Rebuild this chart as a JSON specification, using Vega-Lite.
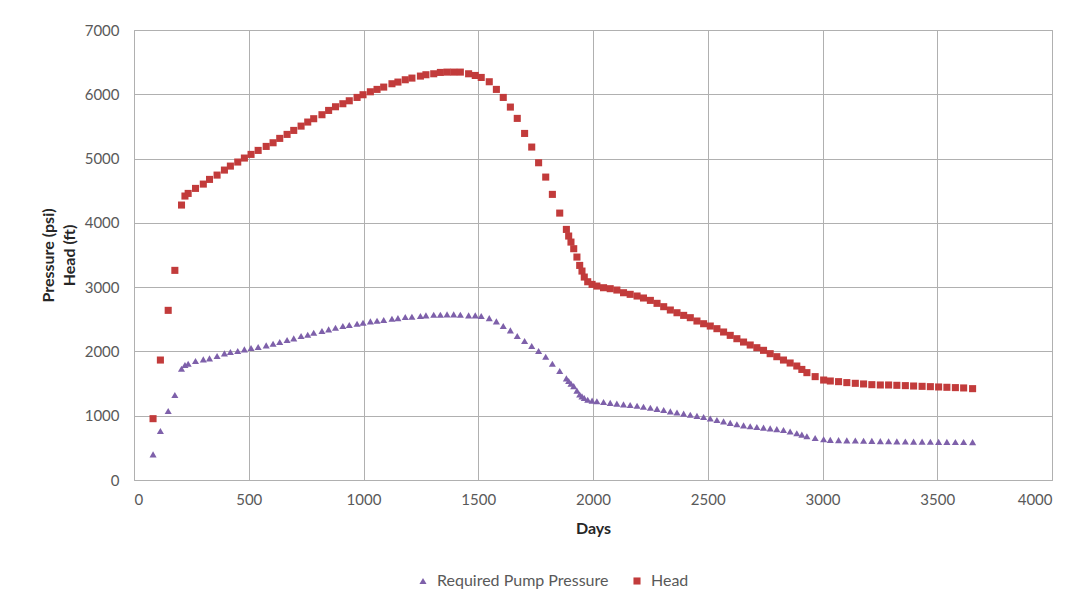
{
"$schema": "https://vega.github.io/schema/vega-lite/v6.json",
"width": 918, "height": 450,
"autosize": {"type": "none"},
"padding": {"left": 134, "top": 30, "right": 38, "bottom": 121},
"background": "white",
"data": {"values": [
{"series":"Head","day":83,"value":954},{"series":"Head","day":115,"value":1866},{"series":"Head","day":149,"value":2639},{"series":"Head","day":178,"value":3261},{"series":"Head","day":207,"value":4277},{"series":"Head","day":222,"value":4417},{"series":"Head","day":236,"value":4458},{"series":"Head","day":268,"value":4536},{"series":"Head","day":302,"value":4603},{"series":"Head","day":329,"value":4676},{"series":"Head","day":362,"value":4743},{"series":"Head","day":394,"value":4821},{"series":"Head","day":420,"value":4883},{"series":"Head","day":452,"value":4946},{"series":"Head","day":481,"value":5008},{"series":"Head","day":510,"value":5065},{"series":"Head","day":541,"value":5127},{"series":"Head","day":576,"value":5189},{"series":"Head","day":606,"value":5246},{"series":"Head","day":635,"value":5314},{"series":"Head","day":667,"value":5376},{"series":"Head","day":696,"value":5438},{"series":"Head","day":728,"value":5505},{"series":"Head","day":757,"value":5568},{"series":"Head","day":783,"value":5620},{"series":"Head","day":819,"value":5682},{"series":"Head","day":848,"value":5749},{"series":"Head","day":878,"value":5806},{"series":"Head","day":910,"value":5853},{"series":"Head","day":938,"value":5899},{"series":"Head","day":972,"value":5951},{"series":"Head","day":998,"value":5993},{"series":"Head","day":1030,"value":6039},{"series":"Head","day":1059,"value":6076},{"series":"Head","day":1088,"value":6112},{"series":"Head","day":1124,"value":6164},{"series":"Head","day":1150,"value":6190},{"series":"Head","day":1182,"value":6226},{"series":"Head","day":1211,"value":6252},{"series":"Head","day":1248,"value":6283},{"series":"Head","day":1272,"value":6304},{"series":"Head","day":1306,"value":6319},{"series":"Head","day":1335,"value":6340},{"series":"Head","day":1364,"value":6345},{"series":"Head","day":1393,"value":6345},{"series":"Head","day":1422,"value":6345},{"series":"Head","day":1458,"value":6319},{"series":"Head","day":1487,"value":6293},{"series":"Head","day":1513,"value":6262},{"series":"Head","day":1548,"value":6195},{"series":"Head","day":1579,"value":6076},{"series":"Head","day":1609,"value":5951},{"series":"Head","day":1640,"value":5801},{"series":"Head","day":1670,"value":5625},{"series":"Head","day":1702,"value":5391},{"series":"Head","day":1733,"value":5179},{"series":"Head","day":1763,"value":4935},{"series":"Head","day":1794,"value":4712},{"series":"Head","day":1823,"value":4443},{"series":"Head","day":1855,"value":4152},{"series":"Head","day":1884,"value":3898},{"series":"Head","day":1894,"value":3795},{"series":"Head","day":1904,"value":3701},{"series":"Head","day":1916,"value":3598},{"series":"Head","day":1930,"value":3468},{"series":"Head","day":1942,"value":3338},{"series":"Head","day":1952,"value":3250},{"series":"Head","day":1962,"value":3157},{"series":"Head","day":1977,"value":3084},{"series":"Head","day":1996,"value":3043},{"series":"Head","day":2017,"value":3017},{"series":"Head","day":2046,"value":2991},{"series":"Head","day":2075,"value":2976},{"series":"Head","day":2104,"value":2955},{"series":"Head","day":2133,"value":2913},{"series":"Head","day":2162,"value":2888},{"series":"Head","day":2192,"value":2862},{"series":"Head","day":2220,"value":2831},{"series":"Head","day":2250,"value":2794},{"series":"Head","day":2279,"value":2748},{"series":"Head","day":2308,"value":2696},{"series":"Head","day":2337,"value":2644},{"series":"Head","day":2366,"value":2602},{"series":"Head","day":2395,"value":2561},{"series":"Head","day":2424,"value":2525},{"series":"Head","day":2453,"value":2473},{"series":"Head","day":2482,"value":2431},{"series":"Head","day":2511,"value":2395},{"series":"Head","day":2540,"value":2354},{"series":"Head","day":2569,"value":2302},{"series":"Head","day":2598,"value":2250},{"series":"Head","day":2627,"value":2198},{"series":"Head","day":2656,"value":2146},{"series":"Head","day":2685,"value":2100},{"series":"Head","day":2714,"value":2058},{"series":"Head","day":2743,"value":2017},{"series":"Head","day":2772,"value":1965},{"series":"Head","day":2801,"value":1918},{"series":"Head","day":2830,"value":1866},{"series":"Head","day":2859,"value":1820},{"series":"Head","day":2888,"value":1773},{"series":"Head","day":2910,"value":1720},{"series":"Head","day":2932,"value":1670},{"series":"Head","day":2968,"value":1608},{"series":"Head","day":3005,"value":1555},{"series":"Head","day":3034,"value":1540},{"series":"Head","day":3070,"value":1530},{"series":"Head","day":3106,"value":1515},{"series":"Head","day":3143,"value":1504},{"series":"Head","day":3179,"value":1494},{"series":"Head","day":3215,"value":1483},{"series":"Head","day":3252,"value":1478},{"series":"Head","day":3288,"value":1478},{"series":"Head","day":3324,"value":1473},{"series":"Head","day":3361,"value":1468},{"series":"Head","day":3397,"value":1462},{"series":"Head","day":3434,"value":1457},{"series":"Head","day":3470,"value":1452},{"series":"Head","day":3506,"value":1447},{"series":"Head","day":3542,"value":1442},{"series":"Head","day":3579,"value":1437},{"series":"Head","day":3615,"value":1432},{"series":"Head","day":3654,"value":1421},
{"series":"Required Pump Pressure","day":83,"value":399},{"series":"Required Pump Pressure","day":115,"value":762},{"series":"Required Pump Pressure","day":149,"value":1073},{"series":"Required Pump Pressure","day":178,"value":1322},{"series":"Required Pump Pressure","day":207,"value":1731},{"series":"Required Pump Pressure","day":222,"value":1789},{"series":"Required Pump Pressure","day":236,"value":1809},{"series":"Required Pump Pressure","day":268,"value":1851},{"series":"Required Pump Pressure","day":302,"value":1877},{"series":"Required Pump Pressure","day":329,"value":1892},{"series":"Required Pump Pressure","day":362,"value":1928},{"series":"Required Pump Pressure","day":394,"value":1970},{"series":"Required Pump Pressure","day":420,"value":1991},{"series":"Required Pump Pressure","day":452,"value":2006},{"series":"Required Pump Pressure","day":481,"value":2032},{"series":"Required Pump Pressure","day":510,"value":2053},{"series":"Required Pump Pressure","day":541,"value":2068},{"series":"Required Pump Pressure","day":576,"value":2094},{"series":"Required Pump Pressure","day":606,"value":2120},{"series":"Required Pump Pressure","day":635,"value":2146},{"series":"Required Pump Pressure","day":667,"value":2177},{"series":"Required Pump Pressure","day":696,"value":2203},{"series":"Required Pump Pressure","day":728,"value":2240},{"series":"Required Pump Pressure","day":757,"value":2260},{"series":"Required Pump Pressure","day":783,"value":2291},{"series":"Required Pump Pressure","day":819,"value":2317},{"series":"Required Pump Pressure","day":848,"value":2343},{"series":"Required Pump Pressure","day":878,"value":2369},{"series":"Required Pump Pressure","day":910,"value":2395},{"series":"Required Pump Pressure","day":938,"value":2411},{"series":"Required Pump Pressure","day":972,"value":2431},{"series":"Required Pump Pressure","day":998,"value":2447},{"series":"Required Pump Pressure","day":1030,"value":2468},{"series":"Required Pump Pressure","day":1059,"value":2478},{"series":"Required Pump Pressure","day":1088,"value":2488},{"series":"Required Pump Pressure","day":1124,"value":2509},{"series":"Required Pump Pressure","day":1150,"value":2519},{"series":"Required Pump Pressure","day":1182,"value":2535},{"series":"Required Pump Pressure","day":1211,"value":2540},{"series":"Required Pump Pressure","day":1248,"value":2551},{"series":"Required Pump Pressure","day":1272,"value":2561},{"series":"Required Pump Pressure","day":1306,"value":2571},{"series":"Required Pump Pressure","day":1335,"value":2571},{"series":"Required Pump Pressure","day":1364,"value":2576},{"series":"Required Pump Pressure","day":1393,"value":2576},{"series":"Required Pump Pressure","day":1422,"value":2571},{"series":"Required Pump Pressure","day":1458,"value":2561},{"series":"Required Pump Pressure","day":1487,"value":2561},{"series":"Required Pump Pressure","day":1513,"value":2551},{"series":"Required Pump Pressure","day":1548,"value":2519},{"series":"Required Pump Pressure","day":1579,"value":2468},{"series":"Required Pump Pressure","day":1609,"value":2395},{"series":"Required Pump Pressure","day":1640,"value":2328},{"series":"Required Pump Pressure","day":1670,"value":2240},{"series":"Required Pump Pressure","day":1702,"value":2162},{"series":"Required Pump Pressure","day":1733,"value":2084},{"series":"Required Pump Pressure","day":1763,"value":2006},{"series":"Required Pump Pressure","day":1794,"value":1918},{"series":"Required Pump Pressure","day":1823,"value":1809},{"series":"Required Pump Pressure","day":1855,"value":1695},{"series":"Required Pump Pressure","day":1884,"value":1581},{"series":"Required Pump Pressure","day":1894,"value":1540},{"series":"Required Pump Pressure","day":1904,"value":1500},{"series":"Required Pump Pressure","day":1916,"value":1460},{"series":"Required Pump Pressure","day":1930,"value":1390},{"series":"Required Pump Pressure","day":1942,"value":1330},{"series":"Required Pump Pressure","day":1952,"value":1300},{"series":"Required Pump Pressure","day":1962,"value":1275},{"series":"Required Pump Pressure","day":1977,"value":1248},{"series":"Required Pump Pressure","day":1996,"value":1235},{"series":"Required Pump Pressure","day":2017,"value":1225},{"series":"Required Pump Pressure","day":2046,"value":1213},{"series":"Required Pump Pressure","day":2075,"value":1200},{"series":"Required Pump Pressure","day":2104,"value":1188},{"series":"Required Pump Pressure","day":2133,"value":1177},{"series":"Required Pump Pressure","day":2162,"value":1166},{"series":"Required Pump Pressure","day":2192,"value":1155},{"series":"Required Pump Pressure","day":2220,"value":1140},{"series":"Required Pump Pressure","day":2250,"value":1124},{"series":"Required Pump Pressure","day":2279,"value":1107},{"series":"Required Pump Pressure","day":2308,"value":1089},{"series":"Required Pump Pressure","day":2337,"value":1068},{"series":"Required Pump Pressure","day":2366,"value":1050},{"series":"Required Pump Pressure","day":2395,"value":1032},{"series":"Required Pump Pressure","day":2424,"value":1015},{"series":"Required Pump Pressure","day":2453,"value":998},{"series":"Required Pump Pressure","day":2482,"value":980},{"series":"Required Pump Pressure","day":2511,"value":956},{"series":"Required Pump Pressure","day":2540,"value":934},{"series":"Required Pump Pressure","day":2569,"value":912},{"series":"Required Pump Pressure","day":2598,"value":888},{"series":"Required Pump Pressure","day":2627,"value":868},{"series":"Required Pump Pressure","day":2656,"value":850},{"series":"Required Pump Pressure","day":2685,"value":836},{"series":"Required Pump Pressure","day":2714,"value":824},{"series":"Required Pump Pressure","day":2743,"value":814},{"series":"Required Pump Pressure","day":2772,"value":804},{"series":"Required Pump Pressure","day":2801,"value":792},{"series":"Required Pump Pressure","day":2830,"value":778},{"series":"Required Pump Pressure","day":2859,"value":755},{"series":"Required Pump Pressure","day":2888,"value":728},{"series":"Required Pump Pressure","day":2910,"value":705},{"series":"Required Pump Pressure","day":2932,"value":680},{"series":"Required Pump Pressure","day":2968,"value":653},{"series":"Required Pump Pressure","day":3005,"value":633},{"series":"Required Pump Pressure","day":3034,"value":625},{"series":"Required Pump Pressure","day":3070,"value":620},{"series":"Required Pump Pressure","day":3106,"value":617},{"series":"Required Pump Pressure","day":3143,"value":614},{"series":"Required Pump Pressure","day":3179,"value":611},{"series":"Required Pump Pressure","day":3215,"value":608},{"series":"Required Pump Pressure","day":3252,"value":605},{"series":"Required Pump Pressure","day":3288,"value":603},{"series":"Required Pump Pressure","day":3324,"value":601},{"series":"Required Pump Pressure","day":3361,"value":599},{"series":"Required Pump Pressure","day":3397,"value":597},{"series":"Required Pump Pressure","day":3434,"value":596},{"series":"Required Pump Pressure","day":3470,"value":595},{"series":"Required Pump Pressure","day":3506,"value":594},{"series":"Required Pump Pressure","day":3542,"value":593},{"series":"Required Pump Pressure","day":3579,"value":592},{"series":"Required Pump Pressure","day":3615,"value":591},{"series":"Required Pump Pressure","day":3654,"value":590}
]},
"mark": {"type": "point", "filled": true, "opacity": 1},
"encoding": {
"x": {"field": "day", "type": "quantitative", "scale": {"domain": [0, 4000], "nice": false},
 "axis": {"values": [0,500,1000,1500,2000,2500,3000,3500,4000], "format": "d", "title": "Days", "labelPadding": 12, "titlePadding": 13}},
"y": {"field": "value", "type": "quantitative", "scale": {"domain": [0, 7000], "nice": false},
 "axis": {"values": [0,1000,2000,3000,4000,5000,6000,7000], "format": "d", "title": ["Pressure (psi)", "Head (ft)"], "labelPadding": 15, "titlePadding": 7, "titleLineHeight": 21}},
"color": {"field": "series", "type": "nominal", "scale": {"domain": ["Required Pump Pressure", "Head"], "range": ["#7E60AA", "#C23B3B"]},
 "legend": {"orient": "none", "legendX": 281, "legendY": 543, "direction": "horizontal", "title": null, "labelLimit": 400}},
"shape": {"field": "series", "type": "nominal", "scale": {"domain": ["Required Pump Pressure", "Head"], "range": ["triangle-up", "square"]}},
"size": {"field": "series", "type": "nominal", "scale": {"domain": ["Required Pump Pressure", "Head"], "range": [50, 50]}, "legend": null}
},
"config": {
"font": "Lato",
"view": {"stroke": "#a6a6a6", "strokeWidth": 1},
"axis": {"grid": true, "gridColor": "#b0b0b0", "gridWidth": 1, "ticks": false, "domain": false,
 "labelFont": "Lato", "labelFontSize": 15, "labelColor": "#595959",
 "titleFont": "Lato", "titleFontSize": 16, "titleFontWeight": "bold", "titleColor": "#262626"},
"legend": {"labelFont": "Lato", "labelFontSize": 16, "labelColor": "#595959", "symbolSize": 22, "columnPadding": 20, "labelOffset": 6, "symbolStrokeWidth": 0, "labelLimit": 400}
}
}
